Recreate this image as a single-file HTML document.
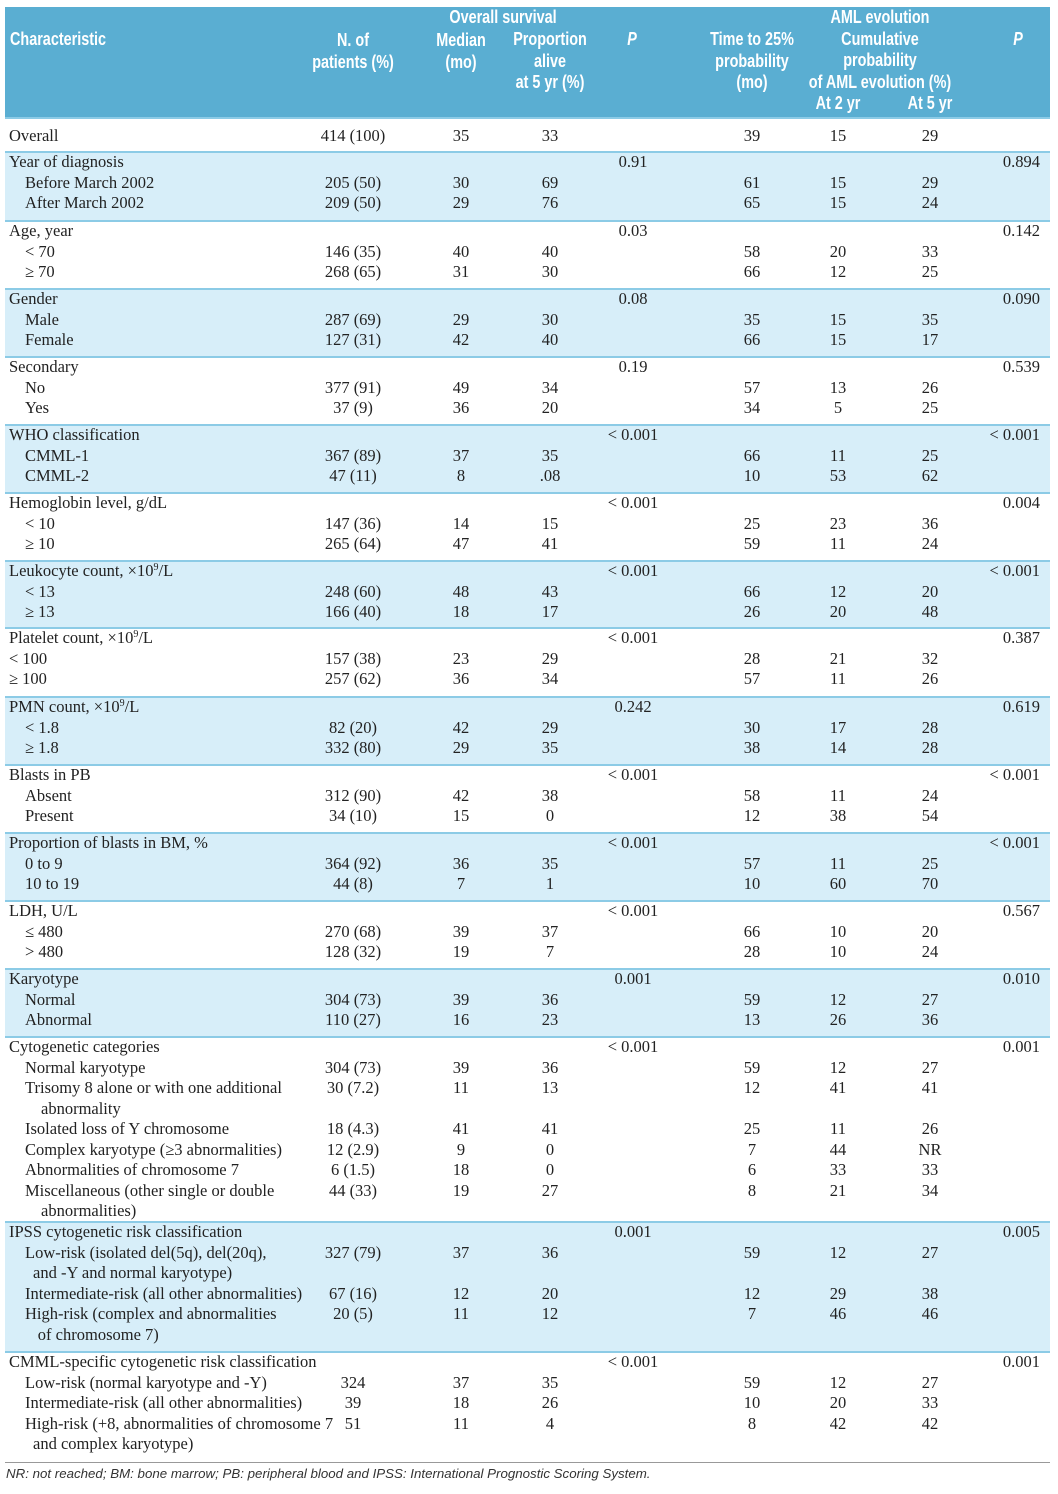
<!DOCTYPE html>
<html><head><meta charset="utf-8">
<style>
body{margin:0;background:#fff;}
#page{position:relative;width:1058px;height:1494px;overflow:hidden;background:#fff;font-family:"Liberation Serif",serif;color:#222;}
.t{position:absolute;font-size:16.5px;line-height:20px;white-space:nowrap;}
.c{transform:translateX(-50%);}
.r{transform:translateX(-100%);}
.h{position:absolute;font-family:"Liberation Sans Narrow","Liberation Sans",sans-serif;font-weight:bold;color:#fff;font-size:18px;line-height:20px;white-space:nowrap;}
.h.c{transform:translateX(-50%) scaleX(0.8);}
.band{position:absolute;left:5px;width:1045px;background:#d7eef9;}
.sep{position:absolute;left:5px;width:1045px;height:2px;background:#8ccbe6;}
</style></head><body>
<div id="page">
<div style="position:absolute;left:5px;top:7px;width:1045px;height:110px;background:#5aaed2;"></div>
<div class="h" style="left:10px;top:29px;transform:scaleX(0.8);transform-origin:left;">Characteristic</div>
<div class="h c" style="left:353px;top:29px;text-align:center;line-height:22px;">N. of<br>patients (%)</div>
<div class="h c" style="left:503px;top:7px;">Overall survival</div>
<div class="h c" style="left:461px;top:29px;text-align:center;line-height:22px;">Median<br>(mo)</div>
<div class="h c" style="left:550px;top:29px;text-align:center;line-height:21.5px;">Proportion<br>alive<br>at 5 yr (%)</div>
<div class="h c" style="left:632px;top:29px;font-style:italic;">P</div>
<div class="h c" style="left:752px;top:29px;text-align:center;line-height:21.5px;">Time to 25%<br>probability<br>(mo)</div>
<div class="h c" style="left:880px;top:7px;text-align:center;line-height:21.5px;">AML evolution<br>Cumulative<br>probability<br>of AML evolution (%)</div>
<div class="h c" style="left:838px;top:93px;">At 2 yr</div>
<div class="h c" style="left:930px;top:93px;">At 5 yr</div>
<div class="h c" style="left:1018px;top:29px;font-style:italic;">P</div>
<div class="sep" style="top:117px;"></div>
<div style="position:absolute;left:5px;top:1462px;width:1045px;height:1px;background:#999;"></div>
<div style="position:absolute;left:6px;top:1466px;font-family:'Liberation Sans',sans-serif;font-style:italic;font-size:13.3px;color:#333;white-space:nowrap;">NR: not reached; BM: bone marrow; PB: peripheral blood and IPSS: International Prognostic Scoring System.</div>
</div>
<script>
// group: [first line center y, shaded]
const groupStarts=[162,231,299,367,435,503,571,638,707,775,843,911,979,1047,1232,1362];
const groupShaded=[1,0,1,0,1,0,1,0,1,0,1,0,1,0,1,0];
// rows: group index, line index, label, indent, n, median, prop, p1, time, a2, a5, p2
const rows=[
[-1,0,"Overall",0,"414 (100)","35","33","","39","15","29",""],
[0,0,"Year of diagnosis",0,"","","","0.91","","","","0.894"],
[0,1,"Before March 2002",1,"205 (50)","30","69","","61","15","29",""],
[0,2,"After March 2002",1,"209 (50)","29","76","","65","15","24",""],
[1,0,"Age, year",0,"","","","0.03","","","","0.142"],
[1,1,"< 70",1,"146 (35)","40","40","","58","20","33",""],
[1,2,"≥ 70",1,"268 (65)","31","30","","66","12","25",""],
[2,0,"Gender",0,"","","","0.08","","","","0.090"],
[2,1,"Male",1,"287 (69)","29","30","","35","15","35",""],
[2,2,"Female",1,"127 (31)","42","40","","66","15","17",""],
[3,0,"Secondary",0,"","","","0.19","","","","0.539"],
[3,1,"No",1,"377 (91)","49","34","","57","13","26",""],
[3,2,"Yes",1,"37 (9)","36","20","","34","5","25",""],
[4,0,"WHO classification",0,"","","","< 0.001","","","","< 0.001"],
[4,1,"CMML-1",1,"367 (89)","37","35","","66","11","25",""],
[4,2,"CMML-2",1,"47 (11)","8",".08","","10","53","62",""],
[5,0,"Hemoglobin level, g/dL",0,"","","","< 0.001","","","","0.004"],
[5,1,"< 10",1,"147 (36)","14","15","","25","23","36",""],
[5,2,"≥ 10",1,"265 (64)","47","41","","59","11","24",""],
[6,0,"Leukocyte count, ×10<sup>9</sup>/L",0,"","","","< 0.001","","","","< 0.001"],
[6,1,"< 13",1,"248 (60)","48","43","","66","12","20",""],
[6,2,"≥ 13",1,"166 (40)","18","17","","26","20","48",""],
[7,0,"Platelet count, ×10<sup>9</sup>/L",0,"","","","< 0.001","","","","0.387"],
[7,1,"< 100",0,"157 (38)","23","29","","28","21","32",""],
[7,2,"≥ 100",0,"257 (62)","36","34","","57","11","26",""],
[8,0,"PMN count, ×10<sup>9</sup>/L",0,"","","","0.242","","","","0.619"],
[8,1,"< 1.8",1,"82 (20)","42","29","","30","17","28",""],
[8,2,"≥ 1.8",1,"332 (80)","29","35","","38","14","28",""],
[9,0,"Blasts in PB",0,"","","","< 0.001","","","","< 0.001"],
[9,1,"Absent",1,"312 (90)","42","38","","58","11","24",""],
[9,2,"Present",1,"34 (10)","15","0","","12","38","54",""],
[10,0,"Proportion of blasts in BM, %",0,"","","","< 0.001","","","","< 0.001"],
[10,1,"0 to 9",1,"364 (92)","36","35","","57","11","25",""],
[10,2,"10 to 19",1,"44 (8)","7","1","","10","60","70",""],
[11,0,"LDH, U/L",0,"","","","< 0.001","","","","0.567"],
[11,1,"≤ 480",1,"270 (68)","39","37","","66","10","20",""],
[11,2,"> 480",1,"128 (32)","19","7","","28","10","24",""],
[12,0,"Karyotype",0,"","","","0.001","","","","0.010"],
[12,1,"Normal",1,"304 (73)","39","36","","59","12","27",""],
[12,2,"Abnormal",1,"110 (27)","16","23","","13","26","36",""],
[13,0,"Cytogenetic categories",0,"","","","< 0.001","","","","0.001"],
[13,1,"Normal karyotype",1,"304 (73)","39","36","","59","12","27",""],
[13,2,"Trisomy 8 alone or with one additional",1,"30 (7.2)","11","13","","12","41","41",""],
[13,3,"abnormality",2,"","","","","","","",""],
[13,4,"Isolated loss of Y chromosome",1,"18 (4.3)","41","41","","25","11","26",""],
[13,5,"Complex karyotype (≥3 abnormalities)",1,"12 (2.9)","9","0","","7","44","NR",""],
[13,6,"Abnormalities of chromosome 7",1,"6 (1.5)","18","0","","6","33","33",""],
[13,7,"Miscellaneous (other single or double",1,"44 (33)","19","27","","8","21","34",""],
[13,8,"abnormalities)",2,"","","","","","","",""],
[14,0,"IPSS cytogenetic risk classification",0,"","","","0.001","","","","0.005"],
[14,1,"Low-risk (isolated del(5q), del(20q),",1,"327 (79)","37","36","","59","12","27",""],
[14,2,"and -Y and normal karyotype)",1.5,"","","","","","","",""],
[14,3,"Intermediate-risk (all other  abnormalities)",1,"67 (16)","12","20","","12","29","38",""],
[14,4,"High-risk (complex and abnormalities",1,"20 (5)","11","12","","7","46","46",""],
[14,5,"of chromosome 7)",1.8,"","","","","","","",""],
[15,0,"CMML-specific cytogenetic risk classification",0,"","","","< 0.001","","","","0.001"],
[15,1,"Low-risk  (normal karyotype and -Y)",1,"324","37","35","","59","12","27",""],
[15,2,"Intermediate-risk  (all other  abnormalities)",1,"39","18","26","","10","20","33",""],
[15,3,"High-risk (+8, abnormalities of chromosome 7",1,"51","11","4","","8","42","42",""],
[15,4,"and complex karyotype)",1.5,"","","","","","","",""]
];
const colX=[353,461,550,633,752,838,930,1040];
const colAlign=["c","c","c","c","c","c","c","r"];
const colNames=["n-patients","median","proportion-alive","p-survival","time-25","aml-2yr","aml-5yr","p-aml"];
const page=document.getElementById('page');
const lineStep=20.5;
groupStarts.forEach((g,i)=>{
  const top=g-11;
  const bottom=(i<groupStarts.length-1)?groupStarts[i+1]-11:1462;
  if(groupShaded[i]){
    const b=document.createElement('div');
    b.className='band';
    
    
    b.style.top=(top+2)+'px';b.style.height=(bottom-top-2)+'px';
    page.appendChild(b);
  }
  const s=document.createElement('div');
  s.className='sep';
  
  
  s.style.top=top+'px';
  page.appendChild(s);
});
function esc(str){
  return str.replace(/<(?!\/?sup>)/g,'&lt;');
}
rows.forEach(r=>{
  const y=(r[0]<0?136:groupStarts[r[0]]+r[1]*lineStep)-10;
  const lab=document.createElement('div');
  lab.className='t';
  
  
  lab.style.left=(9+r[3]*16)+'px';lab.style.top=y+'px';
  lab.innerHTML=esc(r[2]);
  page.appendChild(lab);
  for(let k=0;k<8;k++){
    const v=r[4+k];
    if(!v) continue;
    const d=document.createElement('div');
    d.className='t '+colAlign[k];
    
    
    d.style.left=colX[k]+'px';d.style.top=y+'px';
    d.textContent=v;
    page.appendChild(d);
  }
});
document.querySelectorAll('sup').forEach(s=>{s.style.fontSize='10px';s.style.verticalAlign='6px';s.style.lineHeight='0';});
</script>
</body></html>
